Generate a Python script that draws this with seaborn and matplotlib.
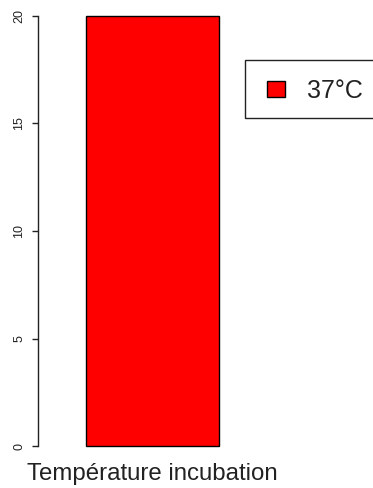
import matplotlib
matplotlib.use("Agg")
import matplotlib.pyplot as plt
from matplotlib.patches import Rectangle
import seaborn as sns
import pandas as pd

# Data
temperatures = ["37°C"]
counts = [20]
y_ticks = [0, 5, 10, 15, 20]
bar_colors = ["#FF0000"]
x_title = "Température incubation"

sns.set_theme(style="white")
plt.rcParams["font.family"] = ["Liberation Sans", "DejaVu Sans"]

W, H = 373, 488
fig = plt.figure(figsize=(W / 100, H / 100), dpi=100)

# Plot region: y axis at x=38px, bar centred around x=152px
ax_left, ax_right = 38, 267
ax_bottom, ax_top = 446, 16
ax = fig.add_axes([ax_left / W, 1 - ax_bottom / H,
                   (ax_right - ax_left) / W, (ax_bottom - ax_top) / H])

df = pd.DataFrame({"temperature": temperatures, "n": counts})
sns.barplot(data=df, x="temperature", y="n", hue="temperature",
            palette=bar_colors, saturation=1, edgecolor="black",
            linewidth=1.0, width=0.8, legend=False, ax=ax)
for p in ax.patches:
    p.set_clip_on(False)

ax.set_xlim(-0.689, 0.689)
ax.set_ylim(0, 20)
ax.set_xticks([])
ax.set_yticks(y_ticks)
ax.set_yticklabels([str(t) for t in y_ticks], rotation=90, va="center",
                   fontsize=9, color="#222222")
ax.tick_params(axis="y", left=True, length=4.3, width=1.0, pad=5,
               color="#222222")
ax.set_ylabel("")
for side in ("top", "right", "bottom"):
    ax.spines[side].set_visible(False)
ax.spines["left"].set_color("#222222")
ax.spines["left"].set_linewidth(1.0)

ax.set_xlabel(x_title, fontsize=17.3, color="#222222", va="baseline")
ax.xaxis.set_label_coords(0.5, -34 / (ax_bottom - ax_top))

# Legend box, open on the right side
fig.add_artist(Rectangle((245 / W, 1 - 118 / H), 140 / W, 58 / H,
                         transform=fig.transFigure, fill=False,
                         edgecolor="#222222", linewidth=1.0))
leg = ax.legend(handles=[ax.patches[0]], labels=temperatures,
                loc="center left", bbox_to_anchor=(267 / W, 1 - 91 / H),
                bbox_transform=fig.transFigure, frameon=False,
                fontsize=18, handlelength=0.72, handleheight=0.64,
                handletextpad=0.88, borderpad=0, borderaxespad=0)
for t in leg.get_texts():
    t.set_color("#222222")

fig.savefig("out.png", dpi=100)
